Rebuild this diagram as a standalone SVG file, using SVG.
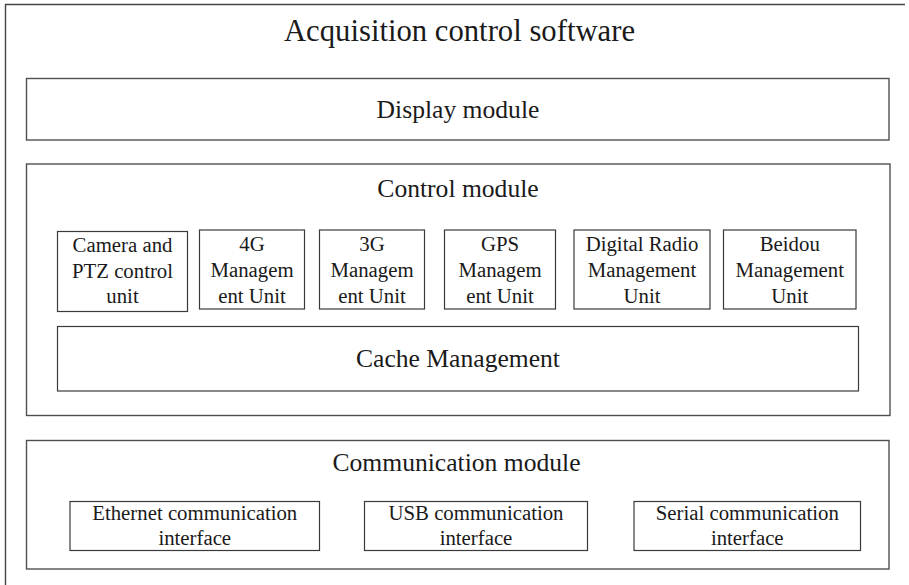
<svg xmlns="http://www.w3.org/2000/svg" width="909" height="585" viewBox="0 0 909 585">
<style>
.box{fill:#fff;stroke:#3a3a3a;stroke-width:1.2}
.mod{fill:#fff;stroke:#505050;stroke-width:1.4}
text{font-family:"Liberation Serif","Times New Roman",serif;fill:#1a1a1a;text-anchor:middle}
.t0{font-size:30.7px}
.t1{font-size:25.6px}
.t2{font-size:20.8px}
</style>
<rect width="909" height="585" fill="#fff"/>
<g id="frame">
<path d="M905,4.5 H5.5 V585" fill="none" stroke="#444" stroke-width="1.4"/>
<text class="t0" x="459.5" y="41">Acquisition control software</text>
</g>
<g id="display">
<rect class="mod" x="26.5" y="78.5" width="862.5" height="61.5"/>
<text class="t1" x="458" y="117.5">Display module</text>
</g>
<g id="control">
<rect class="mod" x="26.5" y="164" width="863.5" height="251.5"/>
<text class="t1" x="458" y="197">Control module</text>
</g>
<g id="camera">
<rect class="box" x="57.5" y="231.5" width="130" height="80"/>
<text class="t2" x="122.5" y="252">Camera and</text>
<text class="t2" x="122.5" y="278">PTZ control</text>
<text class="t2" x="122.5" y="303">unit</text>
</g>
<g id="g4">
<rect class="box" x="199.5" y="230" width="105" height="79"/>
<text class="t2" x="252" y="251">4G</text>
<text class="t2" x="252" y="277">Managem</text>
<text class="t2" x="252" y="302.5">ent Unit</text>
</g>
<g id="g3">
<rect class="box" x="319.5" y="230" width="105" height="79"/>
<text class="t2" x="372" y="251">3G</text>
<text class="t2" x="372" y="277">Managem</text>
<text class="t2" x="372" y="302.5">ent Unit</text>
</g>
<g id="gps">
<rect class="box" x="444.5" y="230" width="111" height="79"/>
<text class="t2" x="500" y="251">GPS</text>
<text class="t2" x="500" y="277">Managem</text>
<text class="t2" x="500" y="302.5">ent Unit</text>
</g>
<g id="radio">
<rect class="box" x="574" y="230" width="136" height="79"/>
<text class="t2" x="642" y="251">Digital Radio</text>
<text class="t2" x="642" y="277">Management</text>
<text class="t2" x="642" y="302.5">Unit</text>
</g>
<g id="beidou">
<rect class="box" x="723.5" y="230" width="132.5" height="79"/>
<text class="t2" x="789.75" y="251">Beidou</text>
<text class="t2" x="789.75" y="277">Management</text>
<text class="t2" x="789.75" y="302.5">Unit</text>
</g>
<g id="cache">
<rect class="box" x="57.5" y="326.5" width="801" height="64.5"/>
<text class="t1" x="458" y="367">Cache Management</text>
</g>
<g id="communication">
<rect class="mod" x="26.5" y="440.5" width="862.5" height="128.5"/>
<text class="t1" x="456.5" y="471">Communication module</text>
</g>
<g id="ethernet">
<rect class="box" x="70" y="501.5" width="249.5" height="49"/>
<text class="t2" x="194.75" y="520">Ethernet communication</text>
<text class="t2" x="194.75" y="544.5">interface</text>
</g>
<g id="usb">
<rect class="box" x="364.5" y="501.5" width="223" height="49"/>
<text class="t2" x="476" y="520">USB communication</text>
<text class="t2" x="476" y="544.5">interface</text>
</g>
<g id="serial">
<rect class="box" x="634" y="501.5" width="226.5" height="49"/>
<text class="t2" x="747.25" y="520">Serial communication</text>
<text class="t2" x="747.25" y="544.5">interface</text>
</g>
<g id="connectors"/>
</svg>
